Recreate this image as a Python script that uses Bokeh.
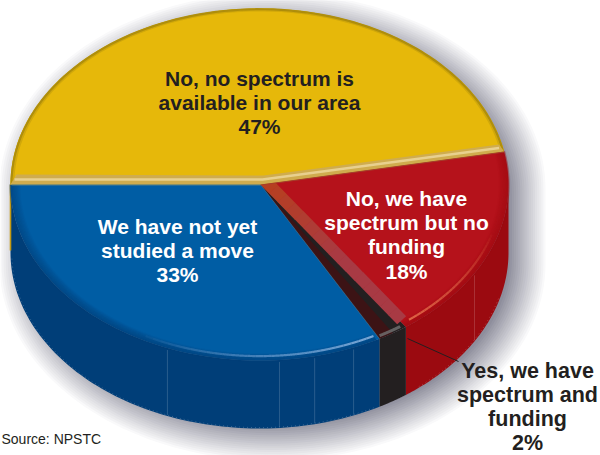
import numpy as np
from bokeh.core.properties import value
from bokeh.embed import file_html
from bokeh.models import Range1d
from bokeh.plotting import figure
from bokeh.resources import INLINE

# Survey shares, in drawing order clockwise from the left edge over the top
categories = ["No, no spectrum is available in our area",
              "No, we have spectrum but no funding",
              "Yes, we have spectrum and funding",
              "We have not yet studied a move"]
shares = [47, 18, 2, 33]
top_colors = ["#e6b80a", "#b5121b", "#231f20", "#005da4"]
side_colors = ["#b8920a", "#9b0a10", "#231f20", "#003e78"]
label_lines = [["No, no spectrum is", "available in our area", "47%"],
               ["No, we have", "spectrum but no", "funding", "18%"],
               ["Yes, we have", "spectrum and", "funding", "2%"],
               ["We have not yet", "studied a move", "33%"]]
label_colors = ["#231f20", "#ffffff", "#231f20", "#ffffff"]
label_centers = [(259, 78), (406, 198), (527, 370), (177, 226)]
label_sizes = ["21px", "21px", "21.5px", "21px"]
line_step = 24.2
source_text = "Source: NPSTC"

# Projection of the tilted disc onto the page
CX, CY, RX, RY, DEPTH = 259.0, 184.0, 249.0, 176.0, 68.0

# Cumulative slice boundaries in degrees, starting at the left edge and going clockwise
edges = 180.0 - np.cumsum([0] + shares) * 3.6
bounds = list(zip(edges[:-1], edges[1:]))


def rim(deg, scale=1.0, drop=0.0):
    t = np.radians(np.asarray(deg, dtype=float))
    return CX + RX * scale * np.cos(t), CY - RY * scale * np.sin(t) + drop


def arc(start, stop, scale=1.0, drop=0.0):
    return rim(np.linspace(start, stop, 90), scale, drop)


def mix(a, b, f):
    ca = [int(a[i:i + 2], 16) for i in (1, 3, 5)]
    cb = [int(b[i:i + 2], 16) for i in (1, 3, 5)]
    return "#%02x%02x%02x" % tuple(round(x + (y - x) * f) for x, y in zip(ca, cb))


p = figure(width=600, height=455, output_backend="svg", toolbar_location=None,
           x_range=Range1d(0, 600), y_range=Range1d(455, 0),
           min_border=0, outline_line_color=None)
p.axis.visible = False
p.grid.visible = False

# Soft drop shadow: nested outlines of the disc, stepping from white to grey
disc_tx, disc_ty = arc(180, 0)
disc_bx, disc_by = arc(0, -180, 1.0, DEPTH)
disc_x = np.r_[disc_tx, disc_bx]
disc_y = np.r_[disc_ty, disc_by]
shadow_layers = 18
for k in range(shadow_layers):
    grow = 24 - k * 2.1
    f = (k + 1) / shadow_layers
    ox = CX + 13 + (disc_x - CX) * (RX + grow) / RX
    oy = CY + 8 + DEPTH / 2 + (disc_y - CY - DEPTH / 2) * (RY + DEPTH / 2 + grow) / (RY + DEPTH / 2)
    p.patch(ox, oy, fill_color=mix("#ffffff", "#8e8e9c", f), line_color=None, level="underlay")

# Outer wall, front half only; the slice tops close it off at the right edge
for (a, b), col in zip(bounds, side_colors):
    lo, hi = min(a, b), max(a, b)
    lo, hi = max(lo, -180), min(hi, 0)
    if hi <= lo:
        continue
    x1, y1 = arc(hi, lo)
    x2, y2 = arc(lo, hi, 1.0, DEPTH)
    p.patch(np.r_[x1, x2], np.r_[y1, y2], fill_color=col, line_color=None)

# Sliver of gold wall along the far left edge
p.line([CX - RX, CX - RX], [CY, CY + DEPTH - 2], line_color="#c49a12", line_width=1.6)

# Faint seams between wall panels
seam_deg = [-111.7, -85.4, -77.2, -67.8, -30.3]
for s in seam_deg:
    sx, sy = rim(s, 1.0, 2)
    p.line([sx, sx], [sy, sy + DEPTH - 3], line_color="#ffffff", line_alpha=0.16, line_width=1)

# Dotted trim along the foot of the wall
for a, b in [(-178, -62), (-50, -15)]:
    xs, ys = arc(a, b, 0.995, DEPTH)
    p.line(xs, ys, line_color="#ffffff", line_alpha=0.22, line_width=1, line_dash="1 3")

# Slice tops
apex_x, apex_y = CX + 1, CY
for (a, b), col in zip(bounds, top_colors):
    xs, ys = arc(a, b)
    p.patch(np.r_[apex_x, xs], np.r_[apex_y, ys], fill_color=col, line_color=None)

# Rim shading on the blue and red slices, fading inward
for (a, b, col) in [(-180, -62, "#003e78"), (11, -54, "#9b0a10")]:
    for k in range(8):
        xs, ys = arc(a, b, 1 - k * 0.005)
        p.line(xs, ys, line_color=col, line_alpha=0.42 - k * 0.05, line_width=2.2)

# Dark cut between the red and blue slices
red_end, black_end = edges[2], edges[3]
xr, yr = rim(red_end)
xk, yk = rim(black_end)
xm, ym = rim(0.5 * red_end + 0.5 * black_end)
p.patch([apex_x, xk, xm], [apex_y, yk, ym], fill_color="#3c1315", line_color=None)
p.line([apex_x, xk], [apex_y, yk], line_color="#3d7fa8", line_alpha=0.5, line_width=1)

# Bevel along the red cut, orange near the hub and rosy toward the rim
cut_x, cut_y = xr - 9, yr - 3
bevel_steps = 16
for i in range(bevel_steps):
    f0, f1 = i / bevel_steps, (i + 1) / bevel_steps
    px0, py0 = apex_x + (cut_x - apex_x) * f0, apex_y + (cut_y - apex_y) * f0
    px1, py1 = apex_x + (cut_x - apex_x) * f1, apex_y + (cut_y - apex_y) * f1
    c = mix("#b8401c", "#a83a44", min(1.0, f1 * 1.7))
    p.patch([px0, px1 + 0.3, px1 + 9.3, px0 + 9],
            [py0, py1 + 0.3, py1 - 7.7, py0 - 8],
            fill_color=c, line_color=None)

# Grey cap at the rim of the thin slice
xc, yc = arc(black_end + 0.5, red_end - 1, 0.985)
p.line(xc, yc, line_color="#6f6f6f", line_width=3, line_alpha=0.85)

# Highlight running just inside the front edge of the blue and red slices
for (a, b, col, strength) in [(-62, -118, "#8db6e2", 0.85), (-52, -17, "#e8744f", 0.85)]:
    ts = np.linspace(a, b, 30)
    for i in range(len(ts) - 1):
        fade = strength * (1 - i / (len(ts) - 1)) ** 0.8
        xs, ys = arc(ts[i], ts[i + 1], 0.975)
        p.line(xs, ys, line_color=col, line_alpha=fade, line_width=2.2)

# Yellow slice drawn again so its bevel lies over the neighbours
xs, ys = arc(bounds[0][0], bounds[0][1])
p.patch(np.r_[apex_x, xs], np.r_[apex_y, ys], fill_color=top_colors[0], line_color=None)

# Darker gold lip around the outer edge of the yellow slice
for k, (w, alpha) in enumerate([(2.2, 0.9), (1.6, 0.35)]):
    xs, ys = arc(bounds[0][0], bounds[0][1], 0.996 - k * 0.008)
    p.line(xs, ys, line_color="#a88a0c", line_alpha=alpha, line_width=w)

# Light bevel along both straight edges of the yellow slice
xl, yl = rim(bounds[0][0])
xe, ye = rim(bounds[0][1])
p.patch([xl, apex_x, xe, xe - 5, apex_x + 3, xl + 6],
        [yl, apex_y, ye, ye - 7, apex_y - 9, yl - 10],
        fill_color="#cfac4e", line_color=None)
p.line([xl + 4, apex_x + 2, xe - 5], [yl - 5, apex_y - 5, ye - 3.5],
       line_color="#e8d08e", line_width=2.4)
p.line([xl + 1, apex_x], [yl + 0.5, apex_y + 0.5], line_color="#55808c", line_width=1.2)
p.line([apex_x, xe], [apex_y + 0.5, ye + 0.5], line_color="#a5402c", line_width=1.2)

# Leader from the thin slice to its label
lead_start, lead_end = (407, 338), (458, 361)
p.line([lead_start[0], lead_end[0]], [lead_start[1], lead_end[1]], line_color="#231f20", line_width=1)

# Slice labels
for lines, col, (cx, cy), size in zip(label_lines, label_colors, label_centers, label_sizes):
    p.text([cx] * len(lines), [cy + i * line_step for i in range(len(lines))], text=lines,
           text_color=col, text_align="center", text_baseline="middle",
           text_font=value("Liberation Sans"), text_font_style="bold", text_font_size=size)

p.text([1], [438], text=[source_text], text_color="#231f20", text_align="left",
       text_baseline="middle", text_font=value("Liberation Sans"), text_font_size="14px")

open("out.html", "w").write(file_html(p, INLINE))
